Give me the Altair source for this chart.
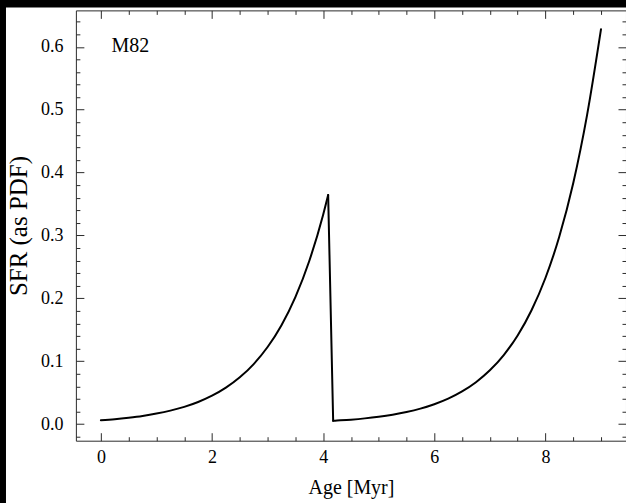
import altair as alt
import pandas as pd

# ---- data ----
age_a = [0.0, 0.25, 0.5, 0.75, 1.0, 1.25, 1.5, 1.75, 2.0, 2.25, 2.5, 2.75,
         3.0, 3.25, 3.5, 3.75, 4.0, 4.09]
sfr_a = [0.0061, 0.0078, 0.0101, 0.0129, 0.0166, 0.0213, 0.0273, 0.0351,
         0.0451, 0.0579, 0.0743, 0.0954, 0.1225, 0.1573, 0.2020, 0.2594,
         0.3331, 0.3644]
age_drop = [4.09, 4.18]
sfr_drop = [0.3644, 0.0051]
age_b = [4.18, 4.25, 4.5, 4.75, 5.0, 5.25, 5.5, 5.75, 6.0, 6.25, 6.5, 6.75,
         7.0, 7.25, 7.5, 7.75, 8.0, 8.25, 8.5, 8.75, 9.0]
sfr_b = [0.0051, 0.0055, 0.0070, 0.0090, 0.0116, 0.0149, 0.0191, 0.0245,
         0.0315, 0.0404, 0.0519, 0.0666, 0.0855, 0.1098, 0.1409, 0.1810,
         0.2323, 0.2983, 0.3830, 0.4918, 0.6280]

label_text = ["M82"]
label_age = [0.19]
label_sfr = [0.602]

x_major = [0, 2, 4, 6, 8]
x_minor = [0.5, 1.0, 1.5, 2.5, 3.0, 3.5, 4.5, 5.0, 5.5, 6.5, 7.0, 7.5, 8.5, 9.0]
y_major = [0.0, 0.1, 0.2, 0.3, 0.4, 0.5, 0.6]
y_minor = [-0.02, 0.02, 0.04, 0.06, 0.08, 0.12, 0.14, 0.16, 0.18, 0.22, 0.24,
           0.26, 0.28, 0.32, 0.34, 0.36, 0.38, 0.42, 0.44, 0.46, 0.48, 0.52,
           0.54, 0.56, 0.58, 0.62, 0.64]
x_domain = [-0.45, 9.45]
y_domain = [-0.0265, 0.658]

# ---- build tables ----
line_df = pd.concat([
    pd.DataFrame({"age": age_a, "sfr": sfr_a, "seg": "a"}),
    pd.DataFrame({"age": age_drop, "sfr": sfr_drop, "seg": "drop"}),
    pd.DataFrame({"age": age_b, "sfr": sfr_b, "seg": "b"}),
], ignore_index=True)
label_df = pd.DataFrame({"age": label_age, "sfr": label_sfr, "label": label_text})

FONT = "Liberation Serif"
TICK = "#2a2a2a"
xs = alt.Scale(domain=x_domain, nice=False, zero=False)
ys = alt.Scale(domain=y_domain, nice=False, zero=False)


def tick_axis(orient, values, size, **kw):
    base = dict(orient=orient, values=values, tickSize=size, offset=-size,
                domain=False, grid=False, ticks=True, tickColor=TICK,
                tickWidth=1, zindex=1, labels=False, title=None)
    base.update(kw)
    return alt.Axis(**base)


def frame_axis(orient):
    return alt.Axis(orient=orient, domain=True, domainColor=TICK, domainWidth=1,
                    ticks=False, labels=False, grid=False, title=None, zindex=1)


bg = alt.Chart(pd.DataFrame({"k": [0]})).mark_rect(color="white").encode(
    x=alt.value(-70), x2=alt.value(560), y=alt.value(-3), y2=alt.value(500)
)

line = alt.Chart(line_df).mark_line(
    color="black", strokeWidth=2, interpolate="monotone",
    strokeCap="round", strokeJoin="round"
).encode(
    x=alt.X("age:Q", scale=xs, axis=tick_axis(
        "bottom", x_major, 8, labels=True, format="d", labelFont=FONT,
        labelFontSize=18, labelColor="black", labelPadding=8,
        title="Age [Myr]", titleFont=FONT, titleFontSize=20,
        titleFontWeight="normal", titleColor="black", titlePadding=11)),
    y=alt.Y("sfr:Q", scale=ys, axis=tick_axis(
        "left", y_major, 8, labels=True, format=".1f", labelFont=FONT,
        labelFontSize=18, labelColor="black", labelPadding=13,
        title="SFR (as PDF)", titleFont=FONT, titleFontSize=25,
        titleFontWeight="normal", titleColor="black", titlePadding=9)),
    detail="seg:N",
)

text = alt.Chart(label_df).mark_text(
    align="left", baseline="middle", font=FONT, fontSize=20, color="black"
).encode(
    x=alt.X("age:Q", scale=xs, axis=tick_axis("bottom", x_minor, 4)),
    y=alt.Y("sfr:Q", scale=ys, axis=tick_axis("left", y_minor, 4)),
    text="label:N",
)

ghost1 = alt.Chart(line_df).mark_line(opacity=0).encode(
    x=alt.X("age:Q", scale=xs, axis=tick_axis("top", x_major, 8)),
    y=alt.Y("sfr:Q", scale=ys, axis=tick_axis("right", y_major, 8)),
    detail="seg:N",
)
ghost2 = alt.Chart(line_df).mark_line(opacity=0).encode(
    x=alt.X("age:Q", scale=xs, axis=tick_axis("top", x_minor, 4)),
    y=alt.Y("sfr:Q", scale=ys, axis=tick_axis("right", y_minor, 4)),
    detail="seg:N",
)
ghost3 = alt.Chart(line_df).mark_line(opacity=0).encode(
    x=alt.X("age:Q", scale=xs, axis=frame_axis("bottom")),
    y=alt.Y("sfr:Q", scale=ys, axis=frame_axis("left")),
    detail="seg:N",
)
ghost4 = alt.Chart(line_df).mark_line(opacity=0).encode(
    x=alt.X("age:Q", scale=xs, axis=frame_axis("top")),
    y=alt.Y("sfr:Q", scale=ys, axis=frame_axis("right")),
    detail="seg:N",
)

chart = alt.layer(bg, line, text, ghost1, ghost2, ghost3, ghost4).resolve_axis(
    x="independent", y="independent"
).properties(
    width=551, height=431,
    autosize=alt.AutoSizeParams(type="none"),
    padding={"left": 76, "top": 10, "right": 0, "bottom": 62},
    background="black",
).configure_view(stroke="transparent")

chart.save("out.html", embed_options={"renderer": "svg", "actions": False})
